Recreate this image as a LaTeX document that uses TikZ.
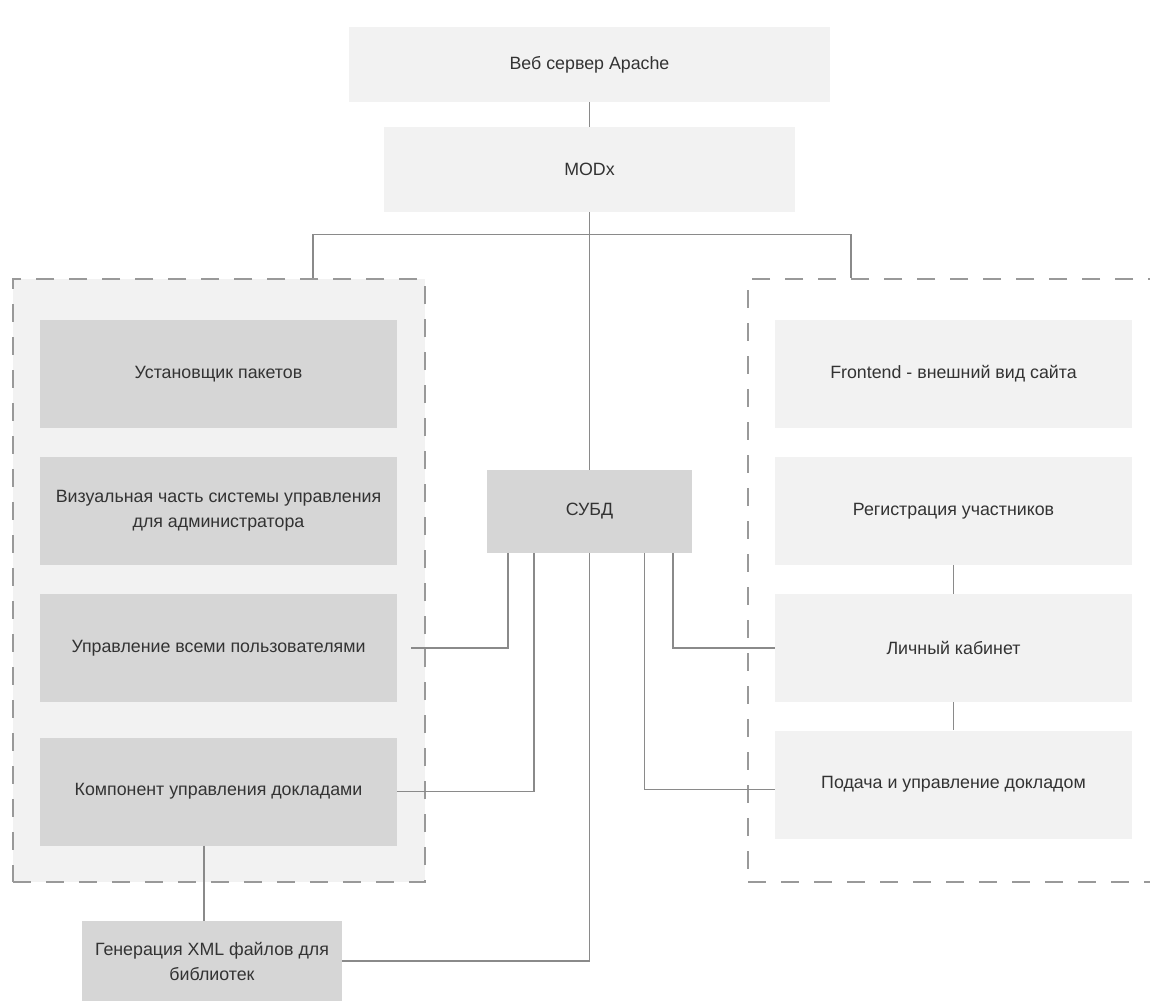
\documentclass[tikz,border=0pt]{standalone}
\usepackage{fontspec}
\setmainfont{Liberation Sans}
\usepackage{xcolor}
\usepackage{tikz}
\usetikzlibrary{positioning,calc}
\definecolor{boxlight}{HTML}{F2F2F2}
\definecolor{boxdark}{HTML}{D6D6D6}
\definecolor{wire}{HTML}{8A8A8A}
\definecolor{frame}{HTML}{999999}
\definecolor{txt}{HTML}{333333}
\tikzstyle{block} = [rectangle,align=center,fill=boxlight,text=txt,inner sep=0pt,font=\fontsize{17.8}{25}\selectfont]
\tikzstyle{darkblock} = [block,fill=boxdark]
\tikzstyle{colblock} = [minimum width=357pt,minimum height=108pt]
\tikzstyle{line} = [draw=wire,line width=1.2pt]
\tikzstyle{dashgroup} = [rectangle,draw=frame,line width=1.2pt,dash pattern=on 18pt off 15pt]

\begin{document}
\begin{tikzpicture}[x=1pt,y=-1pt,node distance=137pt]
        \useasboundingbox (0,0) rectangle (1150,1001);
        \clip (0,0) rectangle (1150,1001);
        % server part
        \node[block,minimum width=481pt,minimum height=75pt] (apache) at (589.5,64.5) {Веб сервер Apache};
        \node[block,minimum width=411pt,minimum height=85pt] (modx) at (589.5,169.5) {MODx};
        \node[darkblock,minimum width=205pt,minimum height=83pt] (dbms) at (589.5,511.5) {СУБД};
        % admin side
        \node[dashgroup,fill=boxlight,minimum width=412pt,minimum height=603pt] (admin) at (219,580.5) {};
        \node[darkblock,colblock] (setup) at (218.5,374) {Установщик пакетов};
        \node[darkblock,colblock,below of=setup] (visual) {Визуальная часть системы управления\\для администратора};
        \node[darkblock,colblock,below of=visual] (users) {Управление всеми пользователями};
        \node[darkblock,colblock,below of=users,node distance=143.5pt] (talks) {Компонент управления докладами};
        \node[darkblock,minimum width=260pt,minimum height=80pt] (xml) at (212,961) {Генерация XML файлов для\\библиотек};
        % user side
        \node[dashgroup,minimum width=452pt,minimum height=603pt] (site) at (974,580.5) {};
        \node[block,colblock] (front) at (953.5,374) {Frontend - внешний вид сайта};
        \node[block,colblock,below of=front] (reg) {Регистрация участников};
        \node[block,colblock,below of=reg] (cabinet) {Личный кабинет};
        \node[block,colblock,below of=cabinet,node distance=136.5pt] (submit) {Подача и управление докладом};
        % connectors
        \draw[line] (apache) -- (modx);
        \draw[line] (modx) -- (dbms);
        \draw[line] ([xshift=94pt]admin.north) -- ++(0,-44) -| ([xshift=-123pt]site.north);
        \draw[line] ([xshift=14pt]users.east) -| ([xshift=-81.5pt]dbms.south);
        \draw[line] (talks.east) -| ([xshift=-55.5pt]dbms.south);
        \draw[line] (xml.east) -| (dbms.south);
        \draw[line] (cabinet.west) -| ([xshift=83.5pt]dbms.south);
        \draw[line] ([yshift=-5pt]submit.west) -| ([xshift=55pt]dbms.south);
        \draw[line] ([xshift=-14.5pt]talks.south) -- ([xshift=-14.5pt]talks.south |- xml.north);
        \draw[line] (reg) -- (cabinet);
        \draw[line] (cabinet) -- (submit);
\end{tikzpicture}
\end{document}
